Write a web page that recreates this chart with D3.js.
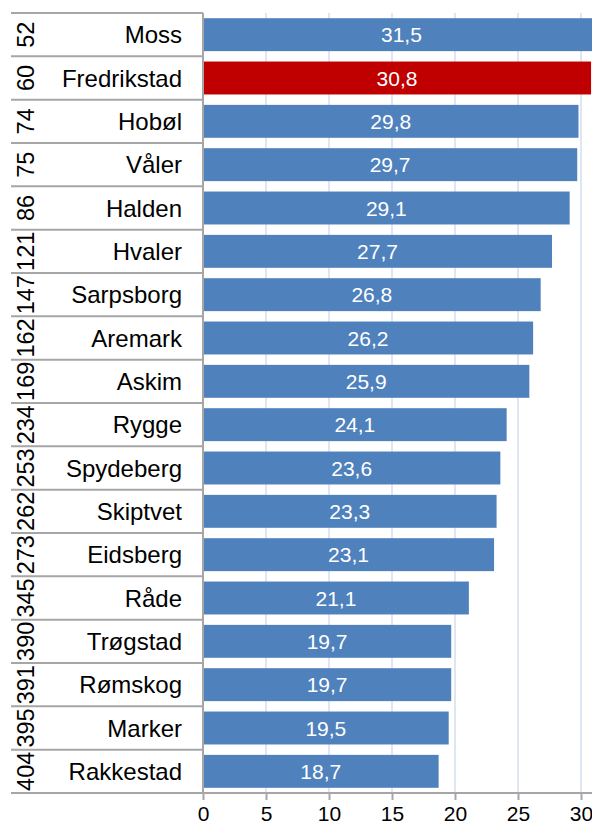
<!DOCTYPE html>
<html><head><meta charset="utf-8">
<script src="https://cdn.jsdelivr.net/npm/d3@7"></script>
<style>html,body{margin:0;padding:0;background:#fff;overflow:hidden}svg{display:block}</style>
</head><body>
<script>
const ranks = [52,60,74,75,86,121,147,162,169,234,253,262,273,345,390,391,395,404];
const categories = ["Moss","Fredrikstad","Hobøl","Våler","Halden","Hvaler","Sarpsborg","Aremark","Askim","Rygge","Spydeberg","Skiptvet","Eidsberg","Råde","Trøgstad","Rømskog","Marker","Rakkestad"];
const values = [31.5,30.8,29.8,29.7,29.1,27.7,26.8,26.2,25.9,24.1,23.6,23.3,23.1,21.1,19.7,19.7,19.5,18.7];
const highlight = "Fredrikstad";
const tickValues = [0,5,10,15,20,25,30];

(function(){
const W = 592, H = 827;
const left = 203, topY = 13, bottomY = 793;
const svg = d3.select("body").append("svg").attr("width", W).attr("height", H);
const font = "'Liberation Sans', Arial, sans-serif";

const x = d3.scaleLinear().domain([0, 30]).range([left, 581]);
const yRow = d3.scaleBand().domain(categories).range([topY, bottomY]).padding(0);
const y = d3.scaleBand().domain(categories).range([topY, bottomY]).paddingInner(0.24).paddingOuter(0.12);

// gridlines
svg.append("g").selectAll("line").data(tickValues.slice(1)).join("line")
  .attr("x1", d => x(d)).attr("x2", d => x(d)).attr("y1", topY).attr("y2", bottomY)
  .attr("stroke", "#dde6f2").attr("stroke-width", 2);

// bars
svg.append("g").selectAll("rect").data(categories).join("rect")
  .attr("x", x(0)).attr("y", d => y(d))
  .attr("width", (d, i) => x(values[i]) - x(0)).attr("height", y.bandwidth())
  .attr("fill", d => d === highlight ? "#c00000" : "#4f81bd");

// value labels
svg.append("g").selectAll("text").data(categories).join("text")
  .attr("x", (d, i) => (x(0) + x(values[i])) / 2).attr("y", d => y(d) + y.bandwidth() / 2)
  .attr("text-anchor", "middle").attr("dominant-baseline", "central")
  .attr("fill", "#fff").attr("font-family", font).attr("font-size", 21)
  .text((d, i) => String(values[i]).replace(".", ","));

// table lines
const bounds = categories.map(c => yRow(c)).concat([bottomY]);
svg.append("g").selectAll("line").data(bounds).join("line")
  .attr("x1", 11).attr("x2", left).attr("y1", d => d).attr("y2", d => d)
  .attr("stroke", "#a6a6a6").attr("stroke-width", 2);

// category labels
svg.append("g").selectAll("text").data(categories).join("text")
  .attr("x", 182).attr("y", d => yRow(d) + yRow.bandwidth() / 2)
  .attr("text-anchor", "end").attr("dominant-baseline", "central")
  .attr("fill", "#000").attr("font-family", font).attr("font-size", 24)
  .text(d => d);

// rank labels (rotated)
svg.append("g").selectAll("text").data(categories).join("text")
  .attr("transform", (d, i) => `translate(26,${yRow(d) + yRow.bandwidth() / 2}) rotate(-90)`)
  .attr("text-anchor", "middle").attr("dominant-baseline", "central")
  .attr("fill", "#000").attr("font-family", font).attr("font-size", 23.5)
  .text((d, i) => ranks[i]);

// vertical axis line
svg.append("line").attr("x1", left).attr("x2", left).attr("y1", topY).attr("y2", bottomY + 1)
  .attr("stroke", "#a6a6a6").attr("stroke-width", 2);

// x axis
const xAxis = d3.axisBottom(x).tickValues(tickValues).tickSize(7).tickPadding(6).tickFormat(d3.format("d"));
const gx = svg.append("g").attr("transform", `translate(0,${bottomY})`).call(xAxis);
gx.select(".domain").attr("d", `M${left},0H${W}`).attr("stroke", "#a6a6a6").attr("stroke-width", 2);
gx.selectAll(".tick line").attr("stroke", "#a6a6a6").attr("stroke-width", 2);
gx.selectAll(".tick text").attr("font-family", font).attr("font-size", 21).attr("fill", "#000");
})();
</script>
</body></html>
